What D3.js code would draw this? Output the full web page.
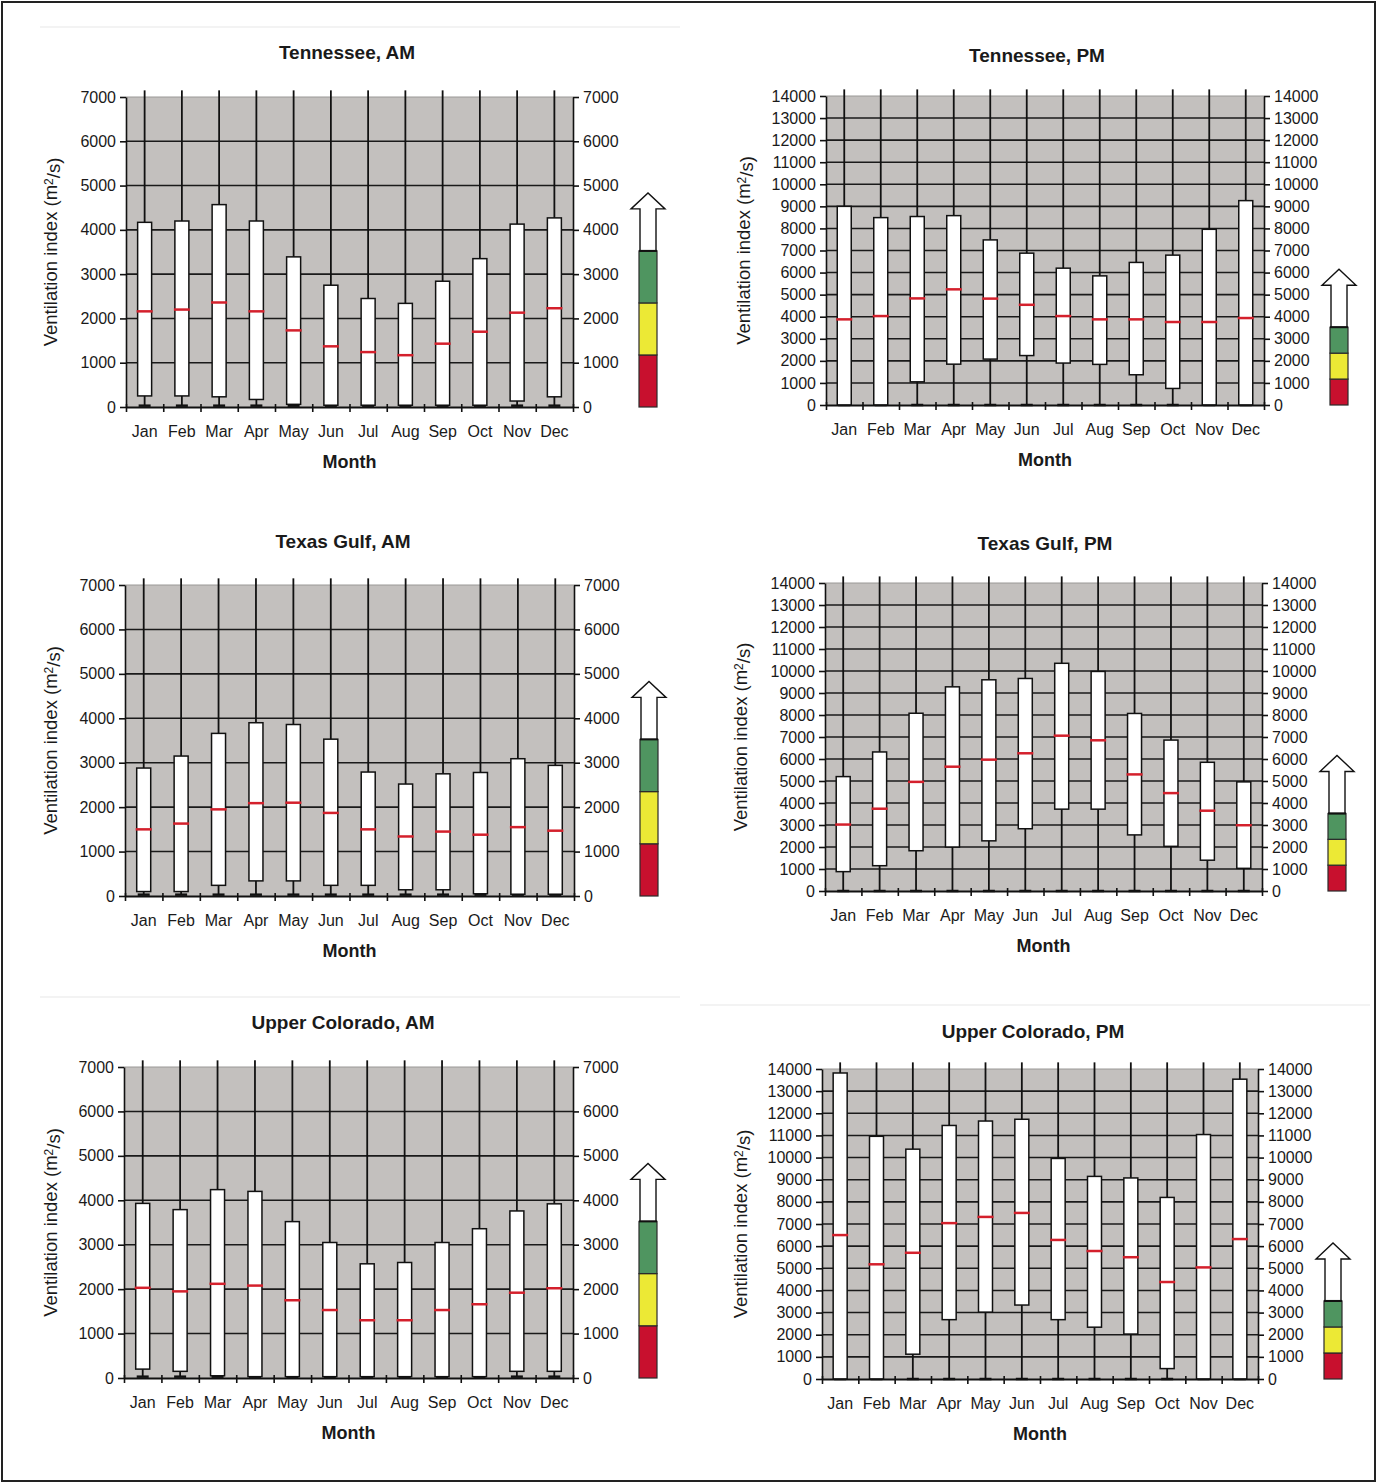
<!DOCTYPE html>
<meta charset="utf-8">
<style>
  body { margin: 0; background: #fff; }
  text { font-family: "Liberation Sans", Arial, sans-serif; fill: #1a1a1a; }
</style>
<svg width="1377" height="1484"></svg>
<script src="https://d3js.org/d3.v7.min.js"></script>
<script>
// months and tick labels
var months = ["Jan", "Feb", "Mar", "Apr", "May", "Jun", "Jul", "Aug", "Sep", "Oct", "Nov", "Dec"];
var amTicks = [0, 1000, 2000, 3000, 4000, 5000, 6000, 7000];
var pmTicks = [0, 1000, 2000, 3000, 4000, 5000, 6000, 7000, 8000, 9000, 10000, 11000, 12000, 13000, 14000];

// ventilation classes (m2/s) for the side scale
var classBreaks = [0, 1175, 2350, 3525];
var classColors = ["#c8102e", "#ece935", "#4f9560"];

// whisker ends (upper whiskers run off the top of the chart)
var amWhiskerTop = [7150, 7150, 7150, 7150, 7150, 7150, 7150, 7150, 7150, 7150, 7150, 7150];
var pmWhiskerTop = [14300, 14300, 14300, 14300, 14300, 14300, 14300, 14300, 14300, 14300, 14300, 14300];
var amWhiskerLow = [30, 30, 30, 30, 30, 30, 30, 30, 30, 30, 30, 30];
var pmWhiskerLow = [0, 0, 0, 0, 0, 0, 0, 0, 0, 0, 0, 0];

// Tennessee
var tnAmLow = [250, 250, 230, 170, 60, 40, 40, 40, 40, 40, 135, 230];
var tnAmMed = [2160, 2200, 2360, 2160, 1730, 1370, 1240, 1170, 1430, 1700, 2130, 2230];
var tnAmHigh = [4170, 4200, 4570, 4200, 3390, 2750, 2450, 2340, 2840, 3350, 4130, 4270];
var tnPmLow = [0, 0, 1050, 1850, 2080, 2240, 1900, 1840, 1370, 750, 0, 0];
var tnPmMed = [3880, 4030, 4830, 5240, 4820, 4540, 4030, 3880, 3880, 3760, 3760, 3940];
var tnPmHigh = [9000, 8490, 8540, 8580, 7480, 6880, 6200, 5850, 6460, 6790, 7960, 9260];

// Texas Gulf
var txAmLow = [100, 100, 240, 340, 340, 240, 240, 140, 140, 50, 40, 40];
var txAmMed = [1500, 1630, 1950, 2090, 2100, 1870, 1500, 1340, 1450, 1380, 1550, 1470];
var txAmHigh = [2880, 3150, 3660, 3900, 3860, 3530, 2790, 2520, 2750, 2780, 3090, 2940];
var txPmLow = [880, 1150, 1830, 2000, 2280, 2830, 3720, 3720, 2550, 2030, 1400, 1030];
var txPmMed = [3020, 3740, 4960, 5650, 5970, 6260, 7060, 6850, 5300, 4450, 3650, 2990];
var txPmHigh = [5200, 6320, 8080, 9280, 9600, 9660, 10350, 9980, 8070, 6860, 5850, 4960];

// Upper Colorado
var ucAmLow = [200, 150, 50, 30, 30, 30, 30, 30, 30, 30, 150, 150];
var ucAmMed = [2030, 1950, 2120, 2080, 1750, 1530, 1300, 1300, 1530, 1660, 1920, 2020];
var ucAmHigh = [3930, 3790, 4240, 4200, 3520, 3050, 2570, 2600, 3050, 3360, 3760, 3920];
var ucPmLow = [0, 0, 1120, 2680, 3020, 3340, 2680, 2340, 2030, 470, 0, 0];
var ucPmMed = [6500, 5180, 5700, 7040, 7320, 7500, 6280, 5780, 5500, 4380, 5040, 6320];
var ucPmHigh = [13820, 10960, 10380, 11450, 11650, 11730, 9960, 9150, 9080, 8200, 11040, 13540];

var svg = d3.select("svg");

// outer frame
svg.append("rect").attr("x", 2).attr("y", 2).attr("width", 1373).attr("height", 1479)
  .attr("fill", "none").attr("stroke", "#222").attr("stroke-width", 2);

var panels = [
  {title: "Tennessee, AM", low: tnAmLow, med: tnAmMed, high: tnAmHigh, top: amWhiskerTop, bottom: amWhiskerLow,
   ticks: amTicks, L: 126, R: 573, T: 97, B: 407, titleX: 347, titleY: 59, ylabX: 51},
  {title: "Tennessee, PM", low: tnPmLow, med: tnPmMed, high: tnPmHigh, top: pmWhiskerTop, bottom: pmWhiskerLow,
   ticks: pmTicks, L: 826, R: 1264, T: 96, B: 405, titleX: 1037, titleY: 62, ylabX: 744},
  {title: "Texas Gulf, AM", low: txAmLow, med: txAmMed, high: txAmHigh, top: amWhiskerTop, bottom: amWhiskerLow,
   ticks: amTicks, L: 125, R: 574, T: 585, B: 896, titleX: 343, titleY: 548, ylabX: 51},
  {title: "Texas Gulf, PM", low: txPmLow, med: txPmMed, high: txPmHigh, top: pmWhiskerTop, bottom: pmWhiskerLow,
   ticks: pmTicks, L: 825, R: 1262, T: 583, B: 891, titleX: 1045, titleY: 550, ylabX: 741},
  {title: "Upper Colorado, AM", low: ucAmLow, med: ucAmMed, high: ucAmHigh, top: amWhiskerTop, bottom: amWhiskerLow,
   ticks: amTicks, L: 124, R: 573, T: 1067, B: 1378, titleX: 343, titleY: 1029, ylabX: 51},
  {title: "Upper Colorado, PM", low: ucPmLow, med: ucPmMed, high: ucPmHigh, top: pmWhiskerTop, bottom: pmWhiskerLow,
   ticks: pmTicks, L: 822, R: 1258, T: 1069, B: 1379, titleX: 1033, titleY: 1038, ylabX: 741}
];

// faint rules seen in the scan
[[40, 680, 27], [40, 680, 997], [700, 1370, 1005]].forEach(function(r) {
  svg.append("line").attr("x1", r[0]).attr("x2", r[1]).attr("y1", r[2]).attr("y2", r[2])
    .attr("stroke", "#efefef").attr("stroke-width", 1.5);
});

panels.forEach(drawPanel);

function drawPanel(p) {
  var g = svg.append("g");
  var maxV = p.ticks[p.ticks.length - 1];

  var y = d3.scaleLinear().domain([0, maxV]).range([p.B, p.T]);
  var x = d3.scaleBand().domain(months).range([p.L, p.R]);
  var xb = d3.scaleLinear().domain([0, 12]).range([p.L, p.R]);
  var cx = function(i) { return x(months[i]) + x.bandwidth() / 2; };

  g.append("rect").attr("x", p.L).attr("y", p.T).attr("width", p.R - p.L).attr("height", p.B - p.T)
    .attr("fill", "#c3c0be");

  // grid
  g.append("g").selectAll("line")
    .data(p.ticks.filter(function(t) { return t > 0 && t < maxV; }))
    .enter().append("line")
      .attr("x1", p.L).attr("x2", p.R)
      .attr("y1", function(d) { return y(d); }).attr("y2", function(d) { return y(d); })
      .attr("stroke", "#1a1a1a").attr("stroke-width", 1.6);
  g.append("line").attr("x1", p.L).attr("x2", p.R).attr("y1", p.T).attr("y2", p.T)
    .attr("stroke", "#9a9896").attr("stroke-width", 1);

  var idx = d3.range(12);

  // upper whiskers
  g.append("g").selectAll("line").data(idx).enter().append("line")
    .attr("x1", cx).attr("x2", cx)
    .attr("y1", function(i) { return Math.max(y(p.top[i]), p.T - 7); })
    .attr("y2", function(i) { return y(p.high[i]); })
    .attr("stroke", "#111").attr("stroke-width", 1.8);
  // lower whiskers and caps
  g.append("g").selectAll("line").data(idx).enter().append("line")
    .attr("x1", cx).attr("x2", cx)
    .attr("y1", function(i) { return y(p.low[i]); })
    .attr("y2", function(i) { return y(p.bottom[i]); })
    .attr("stroke", "#111").attr("stroke-width", 1.8);
  g.append("g").selectAll("line").data(idx).enter().append("line")
    .attr("x1", function(i) { return cx(i) - 6; }).attr("x2", function(i) { return cx(i) + 6; })
    .attr("y1", function(i) { return y(p.bottom[i]); })
    .attr("y2", function(i) { return y(p.bottom[i]); })
    .attr("stroke", "#111").attr("stroke-width", 2.5);

  // boxes
  g.append("g").selectAll("rect").data(idx).enter().append("rect")
    .attr("x", function(i) { return cx(i) - 7; })
    .attr("width", 14)
    .attr("y", function(i) { return y(p.high[i]); })
    .attr("height", function(i) { return y(p.low[i]) - y(p.high[i]); })
    .attr("fill", "#fff").attr("stroke", "#111").attr("stroke-width", 1.5);

  // medians
  g.append("g").selectAll("line").data(idx).enter().append("line")
    .attr("x1", function(i) { return cx(i) - 8; }).attr("x2", function(i) { return cx(i) + 8; })
    .attr("y1", function(i) { return y(p.med[i]); })
    .attr("y2", function(i) { return y(p.med[i]); })
    .attr("stroke", "#d4202c").attr("stroke-width", 2.5);

  // axes
  var fmt = d3.format("d");
  var left = g.append("g").attr("transform", "translate(" + p.L + ",0)")
    .call(d3.axisLeft(y).tickValues(p.ticks).tickFormat(fmt).tickSize(6).tickSizeOuter(0).tickPadding(4));
  var right = g.append("g").attr("transform", "translate(" + p.R + ",0)")
    .call(d3.axisRight(y).tickValues(p.ticks).tickFormat(fmt).tickSize(6).tickSizeOuter(0).tickPadding(4));
  [left, right].forEach(function(a) {
    a.selectAll("text").style("font-size", "16px").attr("fill", "#1a1a1a");
    a.selectAll("line, path").attr("stroke", "#111").attr("stroke-width", 1.6);
  });

  var bticks = g.append("g").attr("transform", "translate(0," + p.B + ")")
    .call(d3.axisBottom(xb).tickValues(d3.range(13)).tickSize(5).tickSizeOuter(0).tickFormat(""));
  bticks.selectAll("line").attr("y1", -3).attr("stroke", "#111").attr("stroke-width", 1.6);
  bticks.select("path").attr("stroke", "#111").attr("stroke-width", 2);

  var labels = g.append("g").attr("transform", "translate(0," + p.B + ")")
    .call(d3.axisBottom(x).tickSize(0).tickPadding(19));
  labels.select("path").remove();
  labels.selectAll("text").style("font-size", "16px").attr("fill", "#1a1a1a");

  // titles
  g.append("text").attr("x", p.titleX).attr("y", p.titleY).attr("text-anchor", "middle")
    .style("font-size", "19px").style("font-weight", "bold").text(p.title);
  g.append("text").attr("x", (p.L + p.R) / 2).attr("y", p.B + 61).attr("text-anchor", "middle")
    .style("font-size", "18px").style("font-weight", "bold").text("Month");
  var yl = g.append("text")
    .attr("transform", "translate(" + p.ylabX + "," + (p.T + p.B) / 2 + ") rotate(-90)")
    .attr("text-anchor", "middle").attr("dy", "0.35em").style("font-size", "18.5px");
  yl.append("tspan").text("Ventilation index (m");
  yl.append("tspan").attr("dy", "-0.4em").style("font-size", "12px").text("2");
  yl.append("tspan").attr("dy", "0.4em").text("/s)");

  // ventilation class scale with arrow
  var lx = p.R + 66, lw = 18;
  var lg = g.append("g");
  lg.selectAll("rect").data(classColors).enter().append("rect")
    .attr("x", lx).attr("width", lw)
    .attr("y", function(c, i) { return y(classBreaks[i + 1]); })
    .attr("height", function(c, i) { return y(classBreaks[i]) - y(classBreaks[i + 1]); })
    .attr("fill", function(c) { return c; })
    .attr("stroke", "#2a2a2a").attr("stroke-width", 1.2);
  var ay = y(classBreaks[3]), mx = lx + lw / 2;
  var arrow = [[mx - 8, ay], [mx - 8, ay - 42], [mx - 17, ay - 42], [mx, ay - 58],
               [mx + 17, ay - 42], [mx + 8, ay - 42], [mx + 8, ay]];
  lg.append("path").attr("d", d3.line()(arrow) + "Z")
    .attr("fill", "#fff").attr("stroke", "#111").attr("stroke-width", 1.4);
  lg.append("line").attr("x1", lx).attr("x2", lx + lw).attr("y1", ay).attr("y2", ay)
    .attr("stroke", "#111").attr("stroke-width", 2);
}
</script>
